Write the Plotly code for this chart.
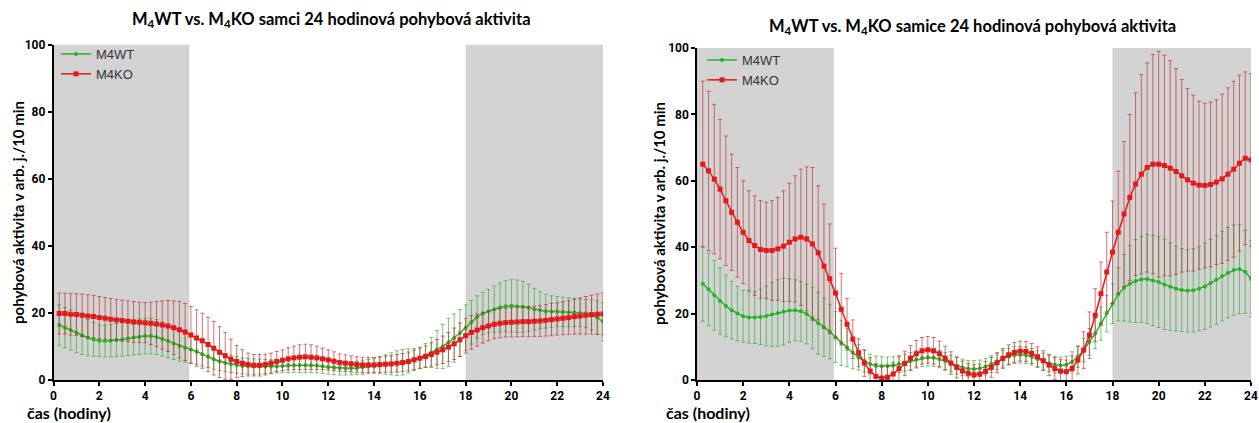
import plotly.graph_objects as go

# ---------------- data ----------------
hours = [round(0.25 * i, 2) for i in range(1, 97)]

# left panel: males (samci)
samci_wt_mean = [
    16.4, 15.6, 14.9, 14.1, 13.3, 12.6, 12.1, 11.7,
    11.6, 11.7, 11.9, 12.1, 12.4, 12.7, 12.9, 13.1,
    13.1, 12.8, 12.2, 11.6, 10.9, 10.2, 9.6, 9.1,
    8.5, 7.7, 6.9, 6.2, 5.6, 5.1, 4.8, 4.5,
    4.2, 4.1, 4.0, 4.0, 4.0, 4.0, 4.1, 4.2,
    4.3, 4.4, 4.4, 4.4, 4.4, 4.3, 4.1, 3.9,
    3.7, 3.6, 3.5, 3.5, 3.6, 3.8, 4.0, 4.2,
    4.4, 4.6, 4.8, 5.0, 5.3, 5.7, 6.1, 6.6,
    7.3, 8.2, 9.1, 10.0, 11.2, 12.5, 14.0, 15.6,
    17.2, 18.8, 19.8, 20.5, 21.1, 21.6, 22.0, 22.1,
    22.0, 21.8, 21.5, 21.1, 20.8, 20.5, 20.4, 20.4,
    20.3, 20.2, 20.1, 20.0, 19.8, 19.4, 18.6, 17.4]
samci_wt_err = [
    6.0, 6.0, 6.0, 5.9, 5.7, 5.4, 5.0, 4.7,
    4.7, 4.8, 4.9, 5.0, 5.1, 5.2, 5.3, 5.3,
    5.3, 5.2, 5.1, 5.0, 4.8, 4.6, 4.3, 4.0,
    3.8, 3.5, 3.2, 3.0, 2.8, 2.7, 2.6, 2.5,
    2.4, 2.3, 2.3, 2.2, 2.1, 2.0, 2.0, 2.0,
    2.1, 2.1, 2.2, 2.2, 2.2, 2.2, 2.2, 2.2,
    2.1, 2.1, 2.0, 2.0, 2.0, 2.1, 2.1, 2.2,
    2.5, 2.9, 3.3, 3.7, 3.8, 3.6, 3.3, 3.2,
    3.6, 4.5, 5.6, 6.6, 7.2, 7.2, 7.0, 6.8,
    6.5, 6.3, 6.3, 6.5, 6.9, 7.3, 7.6, 7.8,
    7.8, 7.6, 7.0, 6.2, 5.5, 5.0, 4.7, 4.5,
    4.4, 4.3, 4.2, 4.1, 4.2, 4.5, 5.0, 5.7]
samci_ko_mean = [
    19.8, 19.8, 19.6, 19.5, 19.3, 19.1, 18.9, 18.6,
    18.4, 18.1, 17.9, 17.7, 17.5, 17.3, 17.2, 17.1,
    16.9, 16.7, 16.4, 16.1, 15.6, 15.0, 14.3, 13.4,
    12.5, 11.7, 10.6, 9.5, 8.3, 7.2, 6.2, 5.5,
    5.0, 4.6, 4.4, 4.4, 4.6, 5.0, 5.5, 5.9,
    6.3, 6.6, 6.8, 6.9, 6.8, 6.6, 6.3, 6.0,
    5.6, 5.2, 5.0, 4.8, 4.6, 4.5, 4.5, 4.5,
    4.6, 4.7, 4.8, 5.0, 5.2, 5.5, 6.0, 6.5,
    7.0, 7.6, 8.3, 9.0, 9.8, 10.8, 12.0, 13.2,
    14.2, 14.9, 15.6, 16.1, 16.6, 16.9, 17.1, 17.2,
    17.3, 17.4, 17.4, 17.5, 17.6, 17.8, 18.0, 18.2,
    18.4, 18.6, 18.9, 19.1, 19.3, 19.5, 19.6, 19.7]
samci_ko_err = [
    6.1, 6.1, 6.2, 6.2, 6.3, 6.3, 6.3, 6.3,
    6.2, 6.2, 6.1, 6.1, 6.1, 6.1, 6.0, 6.0,
    6.3, 6.7, 7.2, 7.6, 8.0, 8.4, 8.5, 8.5,
    8.4, 8.2, 8.1, 8.0, 7.6, 7.0, 6.0, 4.8,
    4.0, 3.4, 3.2, 3.2, 3.1, 3.0, 3.0, 3.1,
    3.3, 3.5, 3.7, 3.8, 3.7, 3.5, 3.2, 3.0,
    2.8, 2.6, 2.5, 2.4, 2.3, 2.3, 2.2, 2.2,
    2.3, 2.4, 2.5, 2.6, 2.7, 2.8, 2.9, 3.0,
    3.2, 3.5, 3.8, 4.1, 4.4, 4.7, 5.0, 5.2,
    5.0, 4.8, 4.6, 4.4, 4.3, 4.3, 4.3, 4.3,
    4.4, 4.4, 4.5, 4.5, 4.6, 4.7, 4.8, 4.8,
    4.9, 5.0, 5.2, 5.4, 5.6, 5.8, 6.0, 6.2]

# right panel: females (samice)
samice_wt_mean = [
    29.0, 27.3, 25.5, 23.8, 22.3, 21.0, 20.0, 19.2,
    18.8, 18.8, 19.0, 19.3, 19.7, 20.2, 20.6, 20.9,
    21.0, 20.7, 19.9, 18.6, 17.1, 15.9, 14.6, 12.9,
    11.2, 9.8, 8.2, 6.8, 5.7, 4.8, 4.3, 4.2,
    4.2, 4.4, 4.8, 5.2, 5.7, 6.2, 6.6, 6.8,
    6.7, 6.3, 5.7, 5.0, 4.3, 3.8, 3.4, 3.3,
    3.5, 4.0, 4.8, 5.6, 6.4, 7.1, 7.5, 7.6,
    7.5, 7.0, 6.3, 5.6, 5.0, 4.6, 4.4, 4.6,
    5.5, 7.0, 9.0, 11.5, 14.0, 17.0, 20.0, 23.0,
    25.8, 27.8, 29.0, 29.8, 30.3, 30.4, 30.0, 29.5,
    28.8, 28.1, 27.5, 27.1, 26.9, 27.0, 27.5, 28.2,
    29.2, 30.2, 31.3, 32.3, 33.1, 33.4, 32.6, 30.5]
samice_wt_err = [
    11.3, 11.0, 10.5, 10.0, 9.3, 8.7, 8.2, 7.8,
    7.7, 7.8, 8.3, 9.0, 9.6, 10.0, 10.0, 9.6,
    9.2, 9.0, 9.0, 9.2, 9.3, 8.8, 8.2, 7.7,
    6.8, 5.8, 4.8, 3.8, 3.3, 3.0, 2.9, 2.8,
    2.7, 2.6, 2.6, 2.6, 2.6, 2.6, 2.6, 2.6,
    2.6, 2.6, 2.6, 2.5, 2.5, 2.5, 2.5, 2.5,
    2.5, 2.5, 2.5, 2.5, 2.5, 2.5, 2.5, 2.5,
    2.5, 2.5, 2.5, 2.5, 2.5, 2.5, 2.5, 2.6,
    3.0, 3.2, 3.5, 4.0, 4.5, 5.0, 5.5, 6.0,
    8.0, 10.0, 11.5, 12.5, 13.0, 13.4, 13.6, 13.7,
    13.6, 13.2, 12.8, 12.5, 12.4, 12.5, 12.7, 13.0,
    13.2, 13.4, 13.5, 13.6, 13.6, 13.4, 12.5, 11.5]
samice_ko_mean = [
    65.0, 63.0, 60.5, 57.5, 54.0, 50.5, 47.5, 44.5,
    42.0, 40.5, 39.3, 39.0, 39.0, 39.5, 40.3, 41.5,
    42.5, 43.0, 42.5, 41.0, 38.3, 34.3, 30.5, 26.2,
    21.3, 16.8, 12.3, 8.2, 5.1, 2.7, 1.1, 0.5,
    0.8, 1.8, 3.4, 5.0, 6.6, 7.9, 8.8, 9.1,
    8.8, 7.9, 6.6, 5.1, 3.8, 2.7, 2.0, 1.6,
    1.8, 2.6, 3.8, 5.2, 6.5, 7.6, 8.3, 8.7,
    8.6, 8.0, 7.0, 5.8, 4.5, 3.4, 2.7, 2.5,
    3.5, 6.0, 9.0, 13.5, 19.5, 26.0, 32.5, 38.5,
    44.5, 50.0, 55.0, 59.0, 62.0, 64.0, 65.0, 65.0,
    64.6, 63.8, 62.8, 61.5, 60.3, 59.3, 58.7, 58.6,
    58.9, 59.6, 60.6, 62.0, 63.5, 65.3, 66.8, 66.3]
samice_ko_err = [
    25.0, 24.0, 22.5, 21.0, 19.5, 17.5, 16.5, 15.5,
    15.0, 15.0, 14.7, 14.5, 15.0, 15.5, 16.7, 17.8,
    19.0, 20.5, 21.7, 23.0, 20.2, 18.7, 16.5, 13.5,
    10.8, 7.8, 5.8, 4.2, 4.0, 4.0, 3.8, 3.5,
    3.5, 3.5, 3.6, 3.7, 3.8, 4.0, 4.0, 4.0,
    4.0, 3.8, 3.6, 3.4, 3.2, 3.0, 3.0, 3.0,
    3.0, 3.0, 3.0, 3.0, 3.0, 3.0, 3.0, 3.0,
    3.0, 3.0, 3.0, 3.0, 3.2, 3.3, 3.4, 3.5,
    3.8, 4.2, 5.5, 7.0, 8.0, 9.5, 12.0, 15.4,
    18.4, 21.8, 25.0, 27.5, 30.0, 31.5, 33.0, 34.0,
    33.2, 32.4, 31.0, 29.0, 27.5, 26.5, 25.3, 24.8,
    24.8, 24.8, 25.5, 26.0, 26.5, 26.5, 26.0, 26.0]

x_ticks = [0, 2, 4, 6, 8, 10, 12, 14, 16, 18, 20, 22, 24]
y_ticks = [0, 20, 40, 60, 80, 100]
dark_periods = [(0, 5.93), (18, 24)]

titles = ["M<sub>4</sub>WT vs. M<sub>4</sub>KO samci 24 hodinová pohybová aktivita",
          "M<sub>4</sub>WT vs. M<sub>4</sub>KO samice 24 hodinová pohybová aktivita"]
y_title = "pohybová aktivita v arb. j./10 min"
x_title = "čas (hodiny)"

# ---------------- styling ----------------
W, H = 1259, 423
GREEN = "#27b327"
RED = "#e3191c"
GREEN_ERR = "rgba(45,170,45,0.65)"
RED_ERR = "rgba(190,40,40,0.65)"
GRAY = "#d3d3d3"
TICKFONT = dict(family="Liberation Sans Narrow, Roboto, Arial Narrow, sans-serif",
                size=12, color="black", weight="bold")
TITLEFONT = "Lato, Open Sans, sans-serif"


def px_x(p):
    return p / W


def px_y(p):
    return (H - p) / H


fig = go.Figure()

panels = [
    dict(wt=(samci_wt_mean, samci_wt_err), ko=(samci_ko_mean, samci_ko_err),
         xa="x", ya="y", legend="legend"),
    dict(wt=(samice_wt_mean, samice_wt_err), ko=(samice_ko_mean, samice_ko_err),
         xa="x2", ya="y2", legend="legend2"),
]

for p in panels:
    fig.add_trace(go.Scatter(
        x=hours, y=p["wt"][0], name="M4WT", mode="lines+markers",
        line=dict(color=GREEN, width=1.5),
        marker=dict(symbol="circle", size=4, color=GREEN),
        error_y=dict(type="data", array=p["wt"][1], visible=True,
                     color=GREEN_ERR, thickness=1, width=2),
        xaxis=p["xa"], yaxis=p["ya"], legend=p["legend"]))
    fig.add_trace(go.Scatter(
        x=hours, y=p["ko"][0], name="M4KO", mode="lines+markers",
        line=dict(color=RED, width=1.5),
        marker=dict(symbol="square", size=5, color=RED),
        error_y=dict(type="data", array=p["ko"][1], visible=True,
                     color=RED_ERR, thickness=1, width=2),
        xaxis=p["xa"], yaxis=p["ya"], legend=p["legend"]))

shapes = []
for xa, ya in (("x", "y"), ("x2", "y2")):
    for a, b in dark_periods:
        shapes.append(dict(type="rect", xref=xa, yref=ya, x0=a, x1=b, y0=0, y1=100,
                           fillcolor=GRAY, line=dict(width=0), layer="below"))

axis_common = dict(range=[0, 24], tickvals=x_ticks, ticks="outside", ticklen=4,
                   tickwidth=1.5, tickcolor="black", showline=True, linecolor="black",
                   linewidth=1.5, showgrid=False, zeroline=False, tickfont=TICKFONT,
                   automargin=False)
yaxis_common = dict(range=[0, 100], tickvals=y_ticks, ticks="outside", ticklen=4,
                    tickwidth=1.5, tickcolor="black", showline=True, linecolor="black",
                    linewidth=1.5, showgrid=False, zeroline=False, tickfont=TICKFONT,
                    automargin=False)

left_x = [px_x(53.5), px_x(603)]
right_x = [px_x(697), px_x(1251)]

annotations = [
    dict(text="<b>" + titles[0] + "</b>", x=px_x(331), y=px_y(20), xref="paper", yref="paper",
         showarrow=False, xanchor="center", yanchor="middle",
         font=dict(family=TITLEFONT, size=16.5, color="black")),
    dict(text="<b>" + titles[1] + "</b>", x=px_x(972), y=px_y(27), xref="paper", yref="paper",
         showarrow=False, xanchor="center", yanchor="middle",
         font=dict(family=TITLEFONT, size=16.5, color="black")),
    dict(text="<b>" + y_title + "</b>", x=px_x(18), y=px_y(213), xref="paper", yref="paper",
         showarrow=False, xanchor="center", yanchor="middle", textangle=-90,
         font=dict(family=TITLEFONT, size=15, color="black")),
    dict(text="<b>" + y_title + "</b>", x=px_x(659), y=px_y(214), xref="paper", yref="paper",
         showarrow=False, xanchor="center", yanchor="middle", textangle=-90,
         font=dict(family=TITLEFONT, size=15, color="black")),
    dict(text="<b>" + x_title + "</b>", x=px_x(25), y=px_y(412), xref="paper", yref="paper",
         showarrow=False, xanchor="left", yanchor="middle",
         font=dict(family=TITLEFONT, size=16, color="black")),
    dict(text="<b>" + x_title + "</b>", x=px_x(664), y=px_y(412), xref="paper", yref="paper",
         showarrow=False, xanchor="left", yanchor="middle",
         font=dict(family=TITLEFONT, size=16, color="black")),
]

legend_common = dict(bgcolor="rgba(0,0,0,0)", borderwidth=0, xanchor="left", yanchor="top",
                     font=dict(family="Liberation Sans, Arial, sans-serif", size=13, color="#333"),
                     tracegroupgap=0, itemwidth=30)

fig.update_layout(
    width=W, height=H, autosize=False,
    margin=dict(l=0, r=0, t=0, b=0, pad=0, autoexpand=False),
    paper_bgcolor="white", plot_bgcolor="white",
    showlegend=True,
    xaxis=dict(domain=left_x, anchor="y", **axis_common),
    yaxis=dict(domain=[px_y(380), px_y(44.5)], anchor="x", **yaxis_common),
    xaxis2=dict(domain=right_x, anchor="y2", **axis_common),
    yaxis2=dict(domain=[px_y(380), px_y(48)], anchor="x2", **yaxis_common),
    legend=dict(x=px_x(56), y=px_y(39), **legend_common),
    legend2=dict(x=px_x(702), y=px_y(45), **legend_common),
    shapes=shapes,
    annotations=annotations,
)

# remove the browser's default page margin so the 1259x423 figure fills the window exactly
fig.write_html("out.html",
               config={"displayModeBar": False},
               post_script="document.body.style.margin='0px';"
                           "document.documentElement.style.overflow='hidden';")
